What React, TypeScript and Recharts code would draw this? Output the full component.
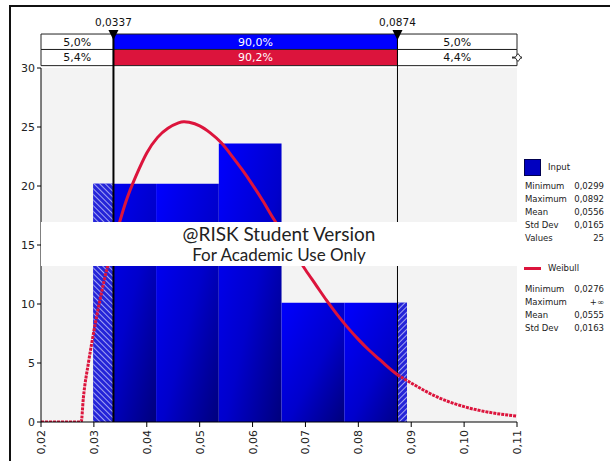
import {
  ComposedChart,
  Line,
  XAxis,
  YAxis,
  CartesianGrid,
  ReferenceArea,
  ReferenceLine,
  ReferenceDot,
} from 'recharts';

// axis ticks
const xTicks = [0.02, 0.03, 0.04, 0.05, 0.06, 0.07, 0.08, 0.09, 0.1, 0.11];
const yTicks = [0, 5, 10, 15, 20, 25, 30];

// histogram of the 25 input values (bin edges and density per bin)
const binEdges = [0.0299, 0.04176, 0.05362, 0.06548, 0.07734, 0.0892];
const binDensity = [20.2, 20.2, 23.6, 10.1, 10.1];

// fitted Weibull density
const curveX = [
  0.02, 0.0276, 0.028, 0.029, 0.03, 0.032, 0.0337, 0.036, 0.038, 0.04, 0.042, 0.044, 0.046,
  0.047, 0.048, 0.05, 0.052, 0.054, 0.056, 0.058, 0.06, 0.062, 0.064, 0.066, 0.068, 0.07, 0.072,
  0.074, 0.076, 0.078, 0.08, 0.082, 0.084, 0.086, 0.0874, 0.09, 0.095, 0.1, 0.105, 0.11,
];
const curveY = [
  0, 0, 2.0, 5.1, 7.7, 12.1, 15.1, 18.6, 20.9, 22.8, 24.1, 24.9, 25.35, 25.45, 25.4, 25.1,
  24.5, 23.7, 22.6, 21.4, 20.1, 18.7, 17.2, 15.8, 14.3, 12.9, 11.6, 10.3, 9.1, 8.0, 7.0, 6.1,
  5.3, 4.5, 4.0, 3.3, 2.1, 1.3, 0.8, 0.5,
];

// 5% / 95% delimiters and the probability bands above the plot
const lowerMark = 0.0337;
const upperMark = 0.0874;
const inputPct = ['5,0%', '90,0%', '5,0%'];
const fitPct = ['5,4%', '90,2%', '4,4%'];

const inputStats = [
  ['Minimum', '0,0299'],
  ['Maximum', '0,0892'],
  ['Mean', '0,0556'],
  ['Std Dev', '0,0165'],
  ['Values', '25'],
];
const fitStats = [
  ['Minimum', '0,0276'],
  ['Maximum', '+\u221E'],
  ['Mean', '0,0555'],
  ['Std Dev', '0,0163'],
];

// band rows sit above the 0..30 domain
const ROW1_TOP = 32.88;
const ROW_SPLIT = 31.57;
const ROW2_BOTTOM = 30.2;

const RED = '#dc143c';
const BLUE = '#0000ff';

const fmt = (v: number, d: number) => v.toFixed(d).replace('.', ',');

const curveData = curveX.map((x, i) => {
  const inside = x >= lowerMark && x <= upperMark;
  const edge = x === lowerMark || x === upperMark;
  return {
    x,
    inner: inside ? curveY[i] : null,
    outer: !inside || edge ? curveY[i] : null,
  };
});

const cellEdges = [xTicks[0], lowerMark, upperMark, xTicks[xTicks.length - 1]];

const XTick = ({ x, y, payload }: any) => (
  <text
    x={0}
    y={0}
    transform={`translate(${x + 4},${y + 1}) rotate(-90)`}
    textAnchor="end"
    fontSize={11}
    fill="#222"
  >
    {fmt(payload.value, 2)}
  </text>
);

const Marker = ({ cx, cy, text }: any) => (
  <g>
    <path d={`M${cx - 5},${cy - 4} L${cx + 5},${cy - 4} L${cx},${cy + 6} Z`} fill="#000" />
    <text x={cx} y={cy - 8} textAnchor="middle" fontSize={10.5} fill="#111">
      {text}
    </text>
  </g>
);

const Handle = ({ cx, cy }: any) => (
  <g stroke="#333" strokeWidth={1}>
    <line x1={cx - 6} y1={cy} x2={cx + 4} y2={cy} strokeWidth={2} />
    <path d={`M${cx},${cy - 4} L${cx + 3},${cy} L${cx},${cy + 4} L${cx - 3},${cy} Z`} fill="#fff" />
  </g>
);

function StatBlock({ top, rows }: { top: number; rows: string[][] }) {
  return (
    <div style={{ position: 'absolute', left: 525, top, width: 79 }}>
      {rows.map(([k, v]) => (
        <div
          key={k}
          style={{ display: 'flex', justifyContent: 'space-between', height: 13, lineHeight: '13px' }}
        >
          <span>{k}</span>
          <span>{v}</span>
        </div>
      ))}
    </div>
  );
}

export default function App() {
  return (
    <div
      style={{
        position: 'absolute',
        left: 0,
        top: 0,
        width: 610,
        height: 461,
        background: '#fff',
        fontFamily: '"DejaVu Sans", sans-serif',
        overflow: 'hidden',
      }}
    >
      <div
        style={{
          position: 'absolute',
          left: 9,
          top: 5,
          width: 610,
          height: 470,
          borderTop: '2px solid #111',
          borderLeft: '2px solid #111',
        }}
      />
      <ComposedChart
        width={610}
        height={461}
        data={curveData}
        margin={{ top: 68, right: 93, bottom: 0, left: 11 }}
      >
        <defs>
          <linearGradient id="barGrad" x1="0" y1="0" x2="1" y2="1">
            <stop offset="0%" stopColor="#0000ff" />
            <stop offset="55%" stopColor="#0000cc" />
            <stop offset="100%" stopColor="#00007c" />
          </linearGradient>
          <pattern id="hatchLeft" width="4" height="4" patternUnits="userSpaceOnUse" patternTransform="rotate(-45)">
            <rect width="4" height="4" fill="#2424d8" />
            <line x1="0" y1="0" x2="0" y2="4" stroke="#e8e8ff" strokeWidth="1.3" />
          </pattern>
          <pattern id="hatchRight" width="4" height="4" patternUnits="userSpaceOnUse" patternTransform="rotate(45)">
            <rect width="4" height="4" fill="#2424d8" />
            <line x1="0" y1="0" x2="0" y2="4" stroke="#e8e8ff" strokeWidth="1.3" />
          </pattern>
        </defs>
        <CartesianGrid fill="#f3f3f3" horizontal={false} vertical={false} />
        <XAxis
          dataKey="x"
          type="number"
          domain={[xTicks[0], xTicks[xTicks.length - 1]]}
          ticks={xTicks}
          allowDataOverflow
          height={39}
          tickSize={5}
          axisLine={{ stroke: '#000' }}
          tickLine={{ stroke: '#000' }}
          tick={<XTick />}
          interval={0}
        />
        <YAxis
          type="number"
          domain={[0, 30]}
          ticks={yTicks}
          allowDataOverflow
          width={30}
          tickSize={4}
          axisLine={{ stroke: '#000' }}
          tickLine={{ stroke: '#000' }}
          tick={{ fontSize: 11, fill: '#222' }}
          interval={0}
        />

        {binDensity.map((d, i) => (
          <ReferenceArea
            key={`bin${i}`}
            x1={binEdges[i]}
            x2={binEdges[i + 1]}
            y1={0}
            y2={d}
            fill="url(#barGrad)"
            fillOpacity={1}
            stroke="none"
          />
        ))}
        <ReferenceArea
          x1={binEdges[0]}
          x2={lowerMark}
          y1={0}
          y2={binDensity[0]}
          fill="url(#hatchLeft)"
          fillOpacity={1}
          stroke="none"
        />
        <ReferenceArea
          x1={upperMark}
          x2={binEdges[binEdges.length - 1]}
          y1={0}
          y2={binDensity[binDensity.length - 1]}
          fill="url(#hatchRight)"
          fillOpacity={1}
          stroke="none"
        />

        {inputPct.map((p, i) => (
          <ReferenceArea
            key={`in${i}`}
            x1={cellEdges[i]}
            x2={cellEdges[i + 1]}
            y1={ROW_SPLIT}
            y2={ROW1_TOP}
            ifOverflow="visible"
            fill={i === 1 ? BLUE : '#fff'}
            fillOpacity={1}
            stroke="#222"
            strokeWidth={1}
            label={{ value: p, position: 'center', fontSize: 11, fill: i === 1 ? '#fff' : '#111' }}
          />
        ))}
        {fitPct.map((p, i) => (
          <ReferenceArea
            key={`fit${i}`}
            x1={cellEdges[i]}
            x2={cellEdges[i + 1]}
            y1={ROW2_BOTTOM}
            y2={ROW_SPLIT}
            ifOverflow="visible"
            fill={i === 1 ? RED : '#fff'}
            fillOpacity={1}
            stroke="#222"
            strokeWidth={1}
            label={{ value: p, position: 'center', fontSize: 11, fill: i === 1 ? '#fff' : '#111' }}
          />
        ))}

        <ReferenceLine
          segment={[
            { x: lowerMark, y: 0 },
            { x: lowerMark, y: ROW1_TOP },
          ]}
          stroke="#000"
          strokeWidth={2}
          ifOverflow="visible"
        />
        <ReferenceLine
          segment={[
            { x: upperMark, y: 0 },
            { x: upperMark, y: ROW1_TOP },
          ]}
          stroke="#000"
          strokeWidth={1}
          ifOverflow="visible"
        />

        <Line
          dataKey="outer"
          type="monotone"
          stroke={RED}
          strokeWidth={3}
          strokeDasharray="3 1"
          dot={false}
          activeDot={false}
          connectNulls={false}
          isAnimationActive={false}
        />
        <Line
          dataKey="inner"
          type="natural"
          stroke={RED}
          strokeWidth={3}
          dot={false}
          activeDot={false}
          connectNulls={false}
          isAnimationActive={false}
        />

        <ReferenceDot
          x={lowerMark}
          y={ROW1_TOP}
          ifOverflow="visible"
          shape={(p: any) => <Marker cx={p.cx} cy={p.cy} text={fmt(lowerMark, 4)} />}
        />
        <ReferenceDot
          x={upperMark}
          y={ROW1_TOP}
          ifOverflow="visible"
          shape={(p: any) => <Marker cx={p.cx} cy={p.cy} text={fmt(upperMark, 4)} />}
        />
        <ReferenceDot
          x={xTicks[xTicks.length - 1]}
          y={(ROW_SPLIT + ROW2_BOTTOM) / 2}
          ifOverflow="visible"
          shape={(p: any) => <Handle cx={p.cx + 1} cy={p.cy} />}
        />
      </ComposedChart>

      {/* watermark band over the plot */}
      <div
        style={{
          position: 'absolute',
          left: 41,
          top: 222,
          width: 476,
          height: 44,
          background: '#fff',
          fontFamily: 'Lato, sans-serif',
          color: '#222',
          textAlign: 'center',
        }}
      >
        <div style={{ fontSize: 19, lineHeight: '22px', marginTop: 1 }}>@RISK Student Version</div>
        <div style={{ fontSize: 17, lineHeight: '20px' }}>For Academic Use Only</div>
      </div>

      {/* legend with summary statistics */}
      <div style={{ fontSize: 8.5, color: '#222' }}>
        <div
          style={{
            position: 'absolute',
            left: 524,
            top: 159,
            width: 15,
            height: 15,
            background: '#0000c0',
            border: '1px solid #000050',
          }}
        />
        <div style={{ position: 'absolute', left: 548, top: 161, lineHeight: '12px' }}>Input</div>
        <StatBlock top={180} rows={inputStats} />
        <div
          style={{ position: 'absolute', left: 524, top: 267, width: 17, height: 3, background: RED }}
        />
        <div style={{ position: 'absolute', left: 548, top: 262, lineHeight: '12px' }}>Weibull</div>
        <StatBlock top={283} rows={fitStats} />
      </div>
    </div>
  );
}
